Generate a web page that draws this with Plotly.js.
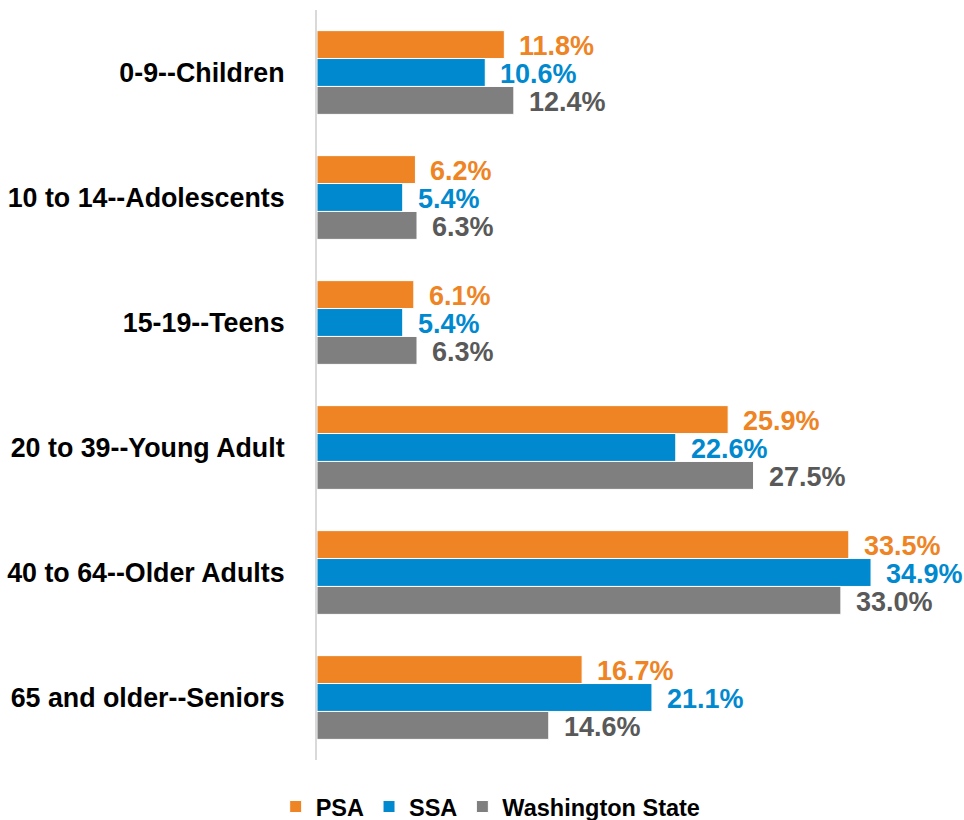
<!DOCTYPE html>
<html>
<head>
<meta charset="utf-8">
<script src="https://cdn.plot.ly/plotly-3.0.1.min.js"></script>
<style>html,body{margin:0;padding:0;background:#fff;}#chart{width:964px;height:820px;}</style>
</head>
<body>
<div id="chart"></div>
<script>
const categories = ["0-9--Children", "10 to 14--Adolescents", "15-19--Teens", "20 to 39--Young Adult", "40 to 64--Older Adults", "65 and older--Seniors"];
const psa = [11.8, 6.2, 6.1, 25.9, 33.5, 16.7];
const ssa = [10.6, 5.4, 5.4, 22.6, 34.9, 21.1];
const wa = [12.4, 6.3, 6.3, 27.5, 33.0, 14.6];
const seriesNames = ["PSA", "SSA", "Washington State"];
const barColors = ["#EE8424", "#0089CF", "#7F7F7F"];
const textColors = ["#EE8424", "#0089CF", "#595959"];

const seriesData = [psa, ssa, wa];
const font = "Liberation Sans, Arial, sans-serif";

const traces = seriesData.map((vals, i) => ({
  type: "bar",
  orientation: "h",
  name: "<b>" + seriesNames[i] + "</b>",
  x: vals,
  y: categories,
  marker: {color: barColors[i], line: {color: "#ffffff", width: 1}},
  hoverinfo: "skip"
}));

const annotations = [];
const offsets = [-1, 0, 1];
seriesData.forEach((vals, i) => {
  vals.forEach((v, j) => {
    annotations.push({
      x: v, y: j, xref: "x", yref: "y",
      text: "<b>" + v.toFixed(1) + "%</b>",
      showarrow: false, xanchor: "left", yanchor: "middle",
      xshift: 13, yshift: -offsets[i] * 28 - 1,
      font: {family: font, size: 27, color: textColors[i]}
    });
  });
});

const layout = {
  width: 964, height: 820,
  margin: {l: 317, r: 12, t: 10, b: 60, autoexpand: false},
  paper_bgcolor: "#ffffff", plot_bgcolor: "#ffffff",
  barmode: "group", bargap: 0.33, bargroupgap: 0,
  showlegend: true,
  legend: {orientation: "h", xref: "container", yref: "paper", x: 0.509, xanchor: "center", y: -0.033, yanchor: "top",
    font: {family: font, size: 23.5, color: "#000"}, traceorder: "normal", itemwidth: 30},
  xaxis: {range: [0, 40], showgrid: false, zeroline: false, showticklabels: false, showline: false, fixedrange: true},
  yaxis: {type: "category", autorange: "reversed", showgrid: false, zeroline: false, showline: true, linecolor: "#D9D9D9", linewidth: 2,
    ticks: "", ticklabelstandoff: 25,
    tickfont: {family: font, size: 26.8, color: "#000"},
    tickvals: categories, ticktext: categories.map(c => "<b>" + c + "</b>")},
  annotations: annotations
};

Plotly.newPlot("chart", traces, layout, {staticPlot: true, displayModeBar: false});
</script>
</body>
</html>
